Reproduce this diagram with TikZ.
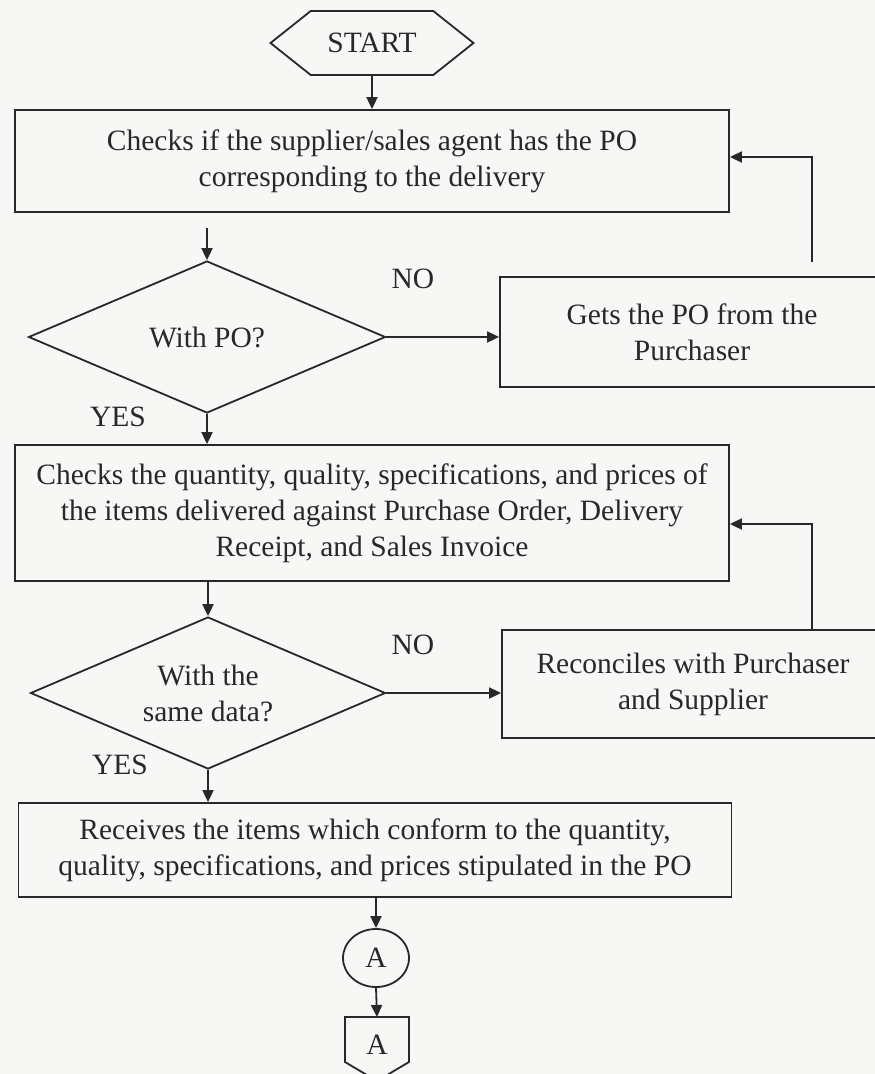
\documentclass[tikz,border=0pt]{standalone}
\usepackage{fontspec}
\setmainfont{Liberation Serif}
\usetikzlibrary{shapes.geometric,shapes.symbols,arrows.meta,calc}
\definecolor{ink}{RGB}{40,40,40}
\definecolor{paper}{RGB}{247,247,245}
\begin{document}
\begin{tikzpicture}[x=1pt,y=-1pt,
  every node/.style={font=\fontsize{29.5}{36}\selectfont, text=ink},
  line/.style={draw=ink,line width=1.8pt},
  arr/.style={line, -{Triangle[length=12pt,width=11pt]}},
  procbox/.style={line, rectangle, inner sep=0pt, align=center},
  decision/.style={line, diamond, shape aspect=2.34, inner sep=0pt, align=center},
  lbl/.style={inner sep=0pt}
]
\fill[paper] (0,0) rectangle (875,1074);
\useasboundingbox (0,0) rectangle (875,1074);

\node[line, signal, signal to=west and east, signal pointer angle=77,
      minimum width=203pt, minimum height=64pt, inner sep=0pt] (start) at (372,43) {START};

\node[procbox, minimum width=714pt, minimum height=102pt] (b1) at (372,161)
  {Checks if the supplier/sales agent has the PO\\corresponding to the delivery};

\node[decision, minimum width=357pt, minimum height=152pt] (d1) at (207,337) {With PO?};

\node[procbox, minimum width=384pt, minimum height=110pt] (b2) at (692,332)
  {Gets the PO from the\\Purchaser};

\node[lbl] (no1) at (413,279) {NO};
\node[lbl] (yes1) at (118,417) {YES};

\node[procbox, minimum width=714pt, minimum height=136pt] (b3) at (372,513)
  {Checks the quantity, quality, specifications, and prices of\\the items delivered against Purchase Order, Delivery\\Receipt, and Sales Invoice};

\node[decision, minimum width=355pt, minimum height=152pt] (d2) at (208,693) {With the\\same data?};

\node[procbox, minimum width=382pt, minimum height=108pt] (b5) at (693,684)
  {Reconciles with Purchaser\\and Supplier};

\node[lbl] (no2) at (413,645) {NO};
\node[lbl] (yes2) at (120,765) {YES};

\node[procbox, minimum width=713pt, minimum height=94pt] (b4) at (375,850)
  {Receives the items which conform to the quantity,\\quality, specifications, and prices stipulated in the PO};

\node[line, ellipse, minimum width=66pt, minimum height=58pt, inner sep=0pt] (conA) at (376,958) {A};

\node[lbl] (offA) at (377,1045) {A};
\draw[line] (345,1017) -- (409,1017) -- (409,1062) -- (377,1081) -- (345,1062) -- cycle;
\coordinate (offtop) at (377,1017);

\coordinate (c1) at (207,228);
\coordinate (c2) at (812,262);

\draw[arr] (start.south) -- (start.south |- b1.north);
\draw[arr] (c1) -- (d1.north);
\draw[arr] (d1.east) -- (d1.east -| b2.west);
\draw[arr] (c2) |- ($(b1.east)+(0,-4)$);
\draw[arr] (d1.south) -- (d1.south |- b3.north);
\draw[arr] (d2.north |- b3.south) -- (d2.north);
\draw[arr] (d2.east) -- (d2.east -| b5.west);
\draw[arr] (b5.north -| c2) |- ($(b3.east)+(0,11)$);
\draw[arr] (d2.south) -- (d2.south |- b4.north);
\draw[arr] (conA.north |- b4.south) -- (conA.north);
\draw[arr] (conA.south) -- (offtop);
\end{tikzpicture}
\end{document}
